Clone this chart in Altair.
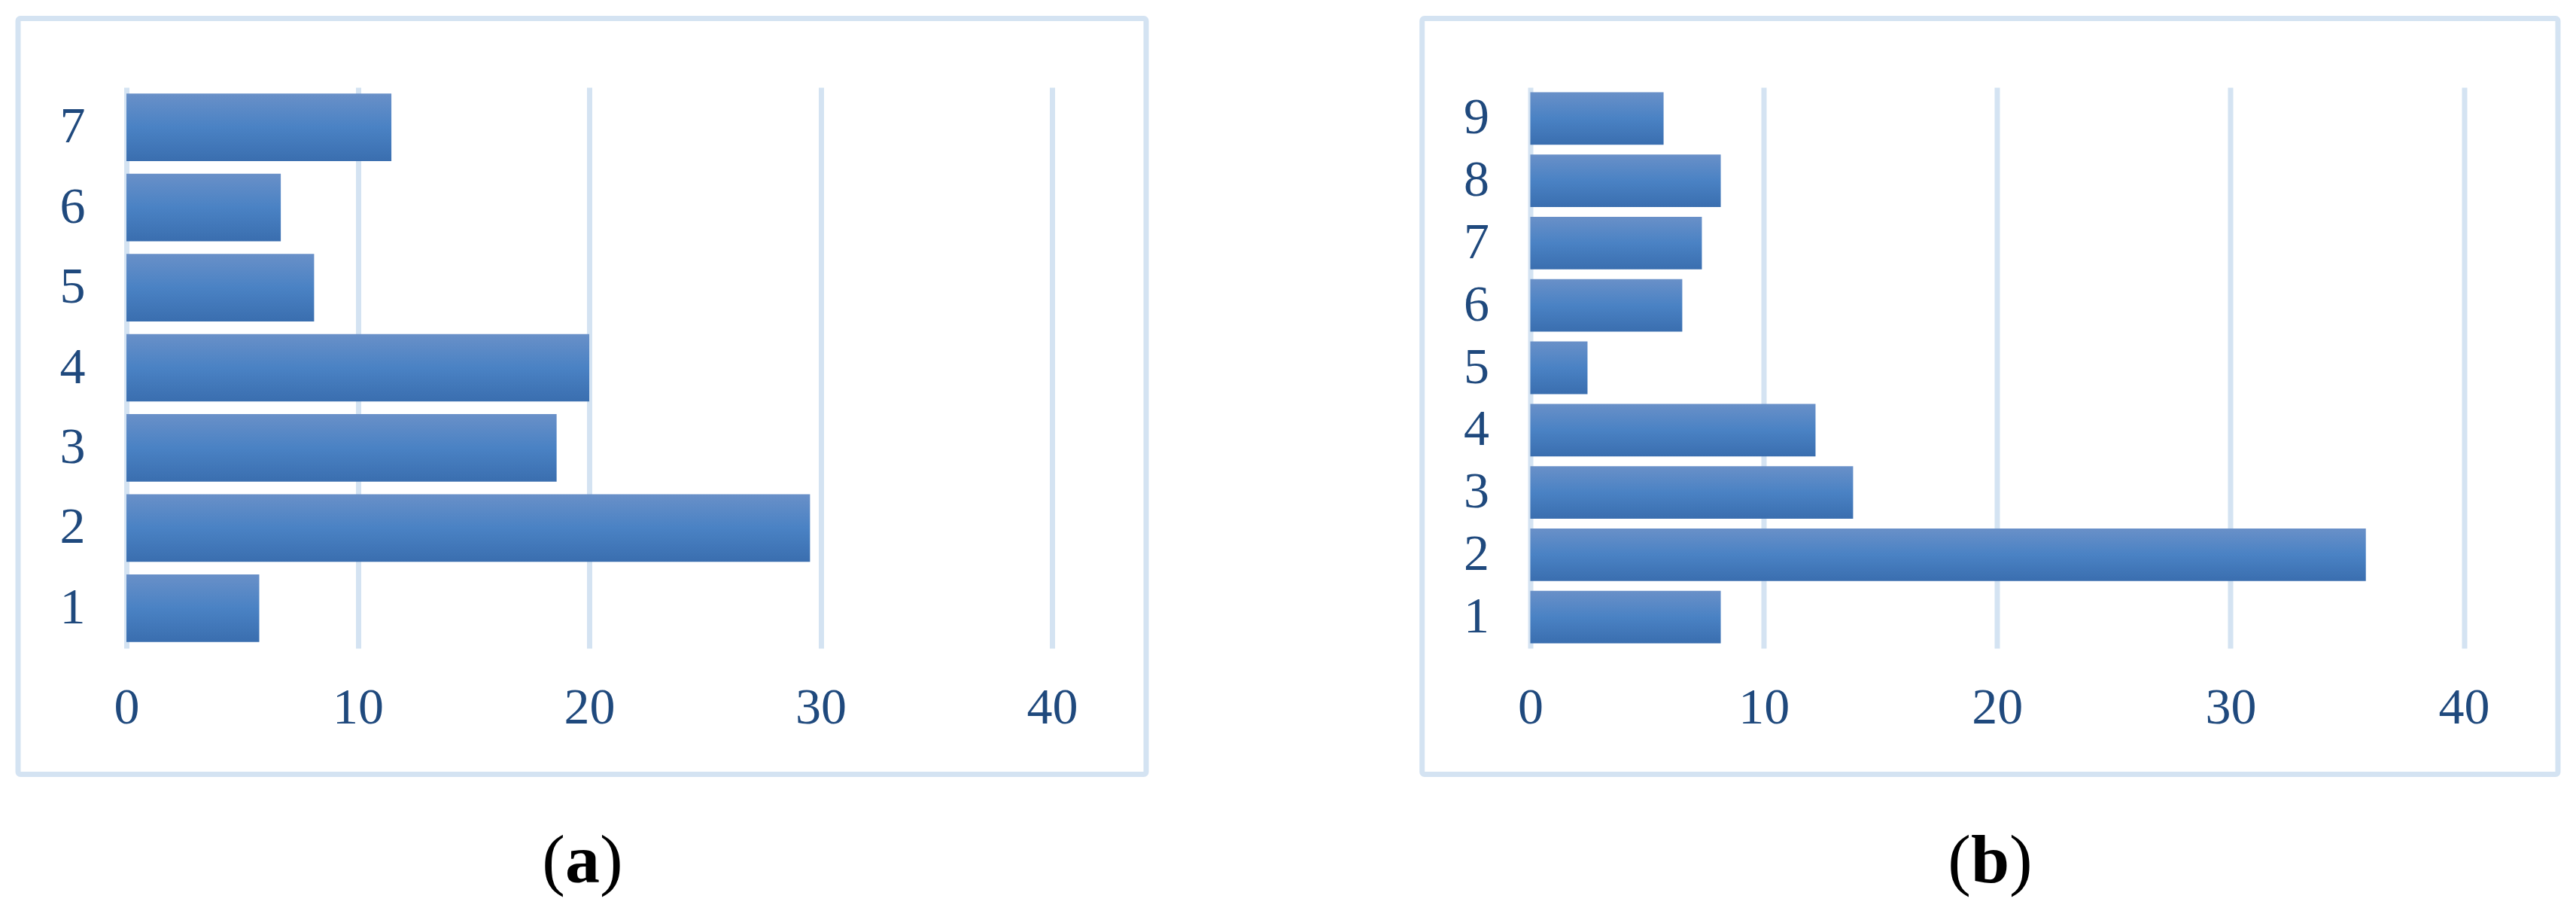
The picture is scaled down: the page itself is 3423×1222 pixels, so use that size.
import altair as alt
import pandas as pd

# ---- data ----
cats_a = ["1", "2", "3", "4", "5", "6", "7"]
vals_a = [5.74, 29.54, 18.59, 20.0, 8.11, 6.67, 11.45]

cats_b = ["1", "2", "3", "4", "5", "6", "7", "8", "9"]
vals_b = [8.16, 35.8, 13.83, 12.22, 2.45, 6.51, 7.35, 8.16, 5.71]

x_ticks = [0, 10, 20, 30, 40]

FONT = "Liberation Serif"
LABEL_COLOR = "#1F497D"
GRID_COLOR = "#D4E3F2"

GRAD = alt.Gradient(
    gradient="linear",
    stops=[
        alt.GradientStop(color="#6990C8", offset=0),
        alt.GradientStop(color="#4A82C4", offset=0.5),
        alt.GradientStop(color="#3A6EAF", offset=1),
    ],
    x1=0, x2=0, y1=0, y2=1,
)

PLOT_H = 745


def panel(cats, vals, width, frame_left, frame_right, letter, cap_x, half):
    df = pd.DataFrame({"cat": cats, "val": vals})
    bars = alt.Chart(df).mark_bar(color=GRAD).encode(
        x=alt.X(
            "val:Q",
            scale=alt.Scale(domain=[0, 40], nice=False),
            axis=alt.Axis(
                values=x_ticks, grid=True, gridColor=GRID_COLOR, gridWidth=7,
                domain=False, ticks=False, title=None, labelFont=FONT,
                labelFontSize=68, labelColor=LABEL_COLOR, labelPadding=99,
                labelBaseline="alphabetic", labelFlush=False,
            ),
        ),
        y=alt.Y(
            "cat:N",
            sort="descending",
            scale=alt.Scale(paddingInner=0.157, paddingOuter=0.0785),
            axis=alt.Axis(
                grid=False, domain=False, ticks=False, title=None, labelAngle=0,
                labelFont=FONT, labelFontSize=68, labelColor=LABEL_COLOR,
                labelPadding=55,
            ),
        ),
    )
    one = pd.DataFrame({"k": [0]})
    frame = alt.Chart(one).mark_rect(
        filled=False, stroke=GRID_COLOR, strokeWidth=7, cornerRadius=3
    ).encode(
        x=alt.value(frame_left), x2=alt.value(frame_right),
        y=alt.value(-91.5), y2=alt.value(912.5),
    )
    lp = alt.Chart(one).mark_text(
        text="(", font=FONT, fontSize=92, color="black", align="right",
        baseline="alphabetic"
    ).encode(x=alt.value(cap_x - half), y=alt.value(1056))
    lt = alt.Chart(one).mark_text(
        text=letter, font=FONT, fontSize=92, fontWeight="bold", color="black",
        align="center", baseline="alphabetic"
    ).encode(x=alt.value(cap_x), y=alt.value(1056))
    rp = alt.Chart(one).mark_text(
        text=")", font=FONT, fontSize=92, color="black", align="left",
        baseline="alphabetic"
    ).encode(x=alt.value(cap_x + half), y=alt.value(1056))
    return alt.layer(frame, bars, lp, lt, rp).properties(width=width, height=PLOT_H)


pa = panel(cats_a, vals_a, 1230, -144, 1355, "a", 606, 23)
pb = panel(cats_b, vals_b, 1240.5, -143.8, 1365.5, "b", 611, 25.5)

chart = alt.hconcat(pa, pb, spacing=635.5, bounds="flush").properties(
    padding={"left": 12, "top": 13, "right": 10, "bottom": 14}
).configure_view(stroke=None)

chart.save("out.html", embed_options={"renderer": "svg", "actions": False})
